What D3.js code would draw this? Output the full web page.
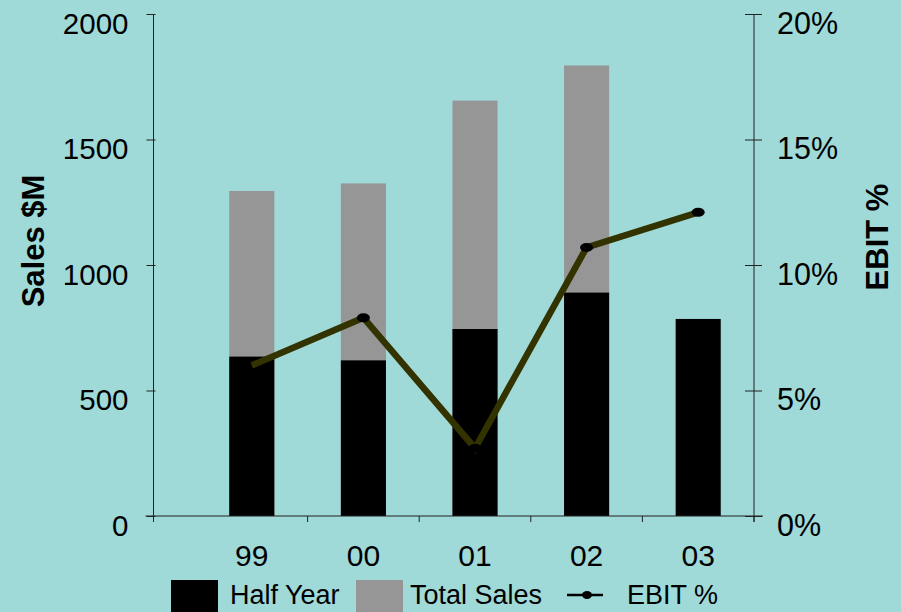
<!DOCTYPE html>
<html>
<head>
<meta charset="utf-8">
<script src="https://cdn.jsdelivr.net/npm/d3@7"></script>
<style>
  html, body { margin: 0; padding: 0; background: #9fd9d8; }
  svg { display: block; font-family: Arial, "Liberation Sans", sans-serif; }
</style>
</head>
<body>
<svg id="chart" width="901" height="612"></svg>
<script>
const categories = ["99", "00", "01", "02", "03"];
const halfYear = [635, 620, 745, 890, 785];
const totalSales = [1295, 1325, 1655, 1795, null];
const ebitPct = [6.0, 7.9, 2.7, 10.7, 12.1];
const salesTicks = [0, 500, 1000, 1500, 2000];
const ebitTicks = [0, 5, 10, 15, 20];

(function () {
const svg = d3.select("#chart");
const W = 901, H = 612;
svg.append("rect").attr("width", W).attr("height", H).attr("fill", "#9fd9d8");

const pLeft = 153.5, pRight = 754, pTop = 14, pBottom = 516;

const x = d3.scaleBand().domain(categories).range([196, pRight])
  .paddingInner(0.596).paddingOuter(0.298);
const y = d3.scaleLinear().domain([0, 2000]).range([pBottom, pTop]);
const y2 = d3.scaleLinear().domain([0, 20]).range([pBottom, pTop]);

// total sales bars (gray, behind)
svg.append("g").selectAll("rect").data(categories.map((c, i) => ({c, v: totalSales[i]})).filter(d => d.v != null))
  .join("rect")
  .attr("x", d => x(d.c)).attr("width", x.bandwidth())
  .attr("y", d => y(d.v)).attr("height", d => y(0) - y(d.v))
  .attr("fill", "#969696");

// half year bars (black)
svg.append("g").selectAll("rect").data(categories.map((c, i) => ({c, v: halfYear[i]})))
  .join("rect")
  .attr("x", d => x(d.c)).attr("width", x.bandwidth())
  .attr("y", d => y(d.v)).attr("height", d => y(0) - y(d.v))
  .attr("fill", "#000");

const axisColor = "#222";
const fontFam = "Arial, 'Liberation Sans', sans-serif";
// left axis
const gl = svg.append("g").attr("transform", `translate(${pLeft},0)`)
  .call(d3.axisLeft(y).tickValues(salesTicks).tickSize(7).tickPadding(18).tickFormat(d3.format("d")));
gl.select(".domain").remove();
gl.append("line").attr("x1", 0).attr("x2", 0).attr("y1", pTop).attr("y2", pBottom + 6).attr("stroke", axisColor);
gl.selectAll(".tick line").attr("x1", 2).attr("x2", -7).attr("stroke", axisColor);
gl.selectAll(".tick text").attr("dy", null).attr("y", 19)
  .attr("font-size", 29.5).attr("fill", "#000").attr("font-family", fontFam);

// right axis
const gr = svg.append("g").attr("transform", `translate(${pRight},0)`)
  .call(d3.axisRight(y2).tickValues(ebitTicks).tickSize(8).tickPadding(15).tickFormat(d => d + "%"));
gr.select(".domain").remove();
gr.append("line").attr("x1", 0).attr("x2", 0).attr("y1", pTop).attr("y2", pBottom + 6).attr("stroke", axisColor);
gr.selectAll(".tick line").attr("x1", -9).attr("x2", 8).attr("stroke", axisColor);
gr.selectAll(".tick text").attr("dy", null).attr("y", 19)
  .attr("font-size", 30.5).attr("fill", "#000").attr("font-family", fontFam);

// bottom axis
svg.append("line").attr("x1", pLeft - 8).attr("x2", pRight + 9).attr("y1", pBottom).attr("y2", pBottom).attr("stroke", axisColor);
svg.append("g").selectAll("line").data(categories).join("line")
  .attr("x1", d => x(d) + x.bandwidth() / 2 + x.step() / 2)
  .attr("x2", d => x(d) + x.bandwidth() / 2 + x.step() / 2)
  .attr("y1", pBottom).attr("y2", pBottom + 6).attr("stroke", axisColor);
svg.append("g").selectAll("text").data(categories).join("text")
  .attr("x", d => x(d) + x.bandwidth() / 2).attr("y", 566)
  .attr("text-anchor", "middle").attr("font-size", 30).attr("fill", "#000")
  .text(d => d);

// EBIT line
const pts = categories.map((c, i) => ({c, v: ebitPct[i]}));
svg.append("path").datum(pts)
  .attr("d", d3.line().x(d => x(d.c) + x.bandwidth() / 2).y(d => y2(d.v)))
  .attr("fill", "none").attr("stroke", "#333300").attr("stroke-width", 6.5);
svg.append("g").selectAll("ellipse").data(pts.slice(1)).join("ellipse")
  .attr("cx", d => x(d.c) + x.bandwidth() / 2).attr("cy", d => y2(d.v))
  .attr("rx", 6.5).attr("ry", 4.5).attr("fill", "#000");

// axis titles
svg.append("text").attr("transform", "translate(44,241) rotate(-90)")
  .attr("text-anchor", "middle").attr("font-size", 31).attr("font-weight", "bold").attr("fill", "#000")
  .text("Sales $M");
svg.append("text").attr("transform", "translate(888,237) rotate(-90)")
  .attr("text-anchor", "middle").attr("font-size", 31).attr("font-weight", "bold").attr("fill", "#000")
  .text("EBIT %");

// legend
const lg = svg.append("g");
lg.append("rect").attr("x", 171).attr("y", 580).attr("width", 47).attr("height", 47).attr("fill", "#000");
lg.append("text").attr("x", 230).attr("y", 604).attr("font-size", 27).attr("fill", "#000").text("Half Year");
lg.append("rect").attr("x", 356).attr("y", 580).attr("width", 47).attr("height", 47).attr("fill", "#969696");
lg.append("text").attr("x", 410).attr("y", 604).attr("font-size", 27).attr("fill", "#000").text("Total Sales");
lg.append("line").attr("x1", 567).attr("x2", 603).attr("y1", 595).attr("y2", 595).attr("stroke", "#000").attr("stroke-width", 2.5);
lg.append("ellipse").attr("cx", 587).attr("cy", 595).attr("rx", 5).attr("ry", 4).attr("fill", "#000");
lg.append("text").attr("x", 627).attr("y", 604).attr("font-size", 27).attr("fill", "#000").text("EBIT %");
})();
</script>
</body>
</html>
